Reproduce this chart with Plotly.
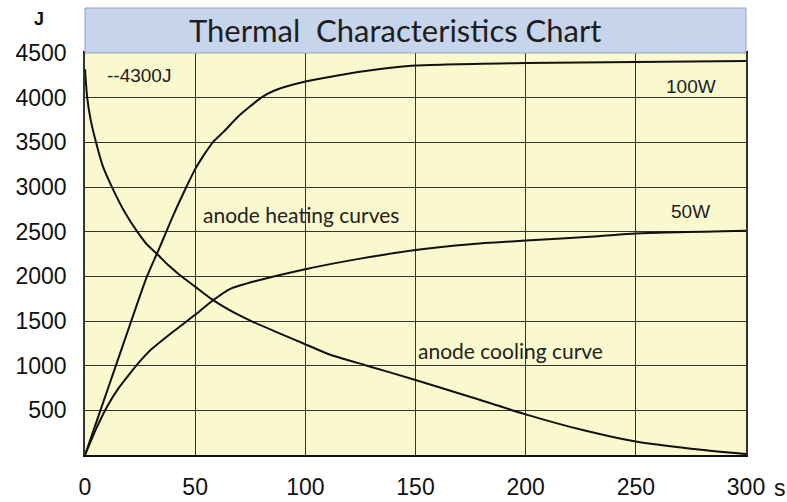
import plotly.graph_objects as go

# time (s) and energy (J)
heat100_t = [0, 7, 14, 21, 28, 34, 40, 46, 50, 54, 58, 63, 70, 80, 86, 100, 116, 134, 150, 200, 250, 300]
heat100_j = [0, 500, 1000, 1500, 1990, 2330, 2680, 3000, 3200, 3360, 3500, 3620, 3800, 4000, 4080, 4180, 4255, 4320, 4360, 4388, 4400, 4410]

heat50_t = [0, 5, 10, 15, 20, 25, 30, 40, 50, 58, 66, 78, 100, 123, 150, 175, 200, 233, 250, 300]
heat50_j = [0, 290, 540, 740, 900, 1050, 1180, 1380, 1570, 1730, 1860, 1950, 2080, 2190, 2295, 2360, 2400, 2450, 2480, 2510]

cool_t = [0, 1, 2.5, 5, 8, 13, 18, 23.7, 28, 33.5, 38, 43, 50, 57.5, 65, 75, 88, 100, 111, 128, 150, 175, 200, 225, 250, 275, 300]
cool_j = [4320, 4000, 3760, 3500, 3240, 2960, 2720, 2500, 2360, 2230, 2120, 2015, 1885, 1745, 1630, 1505, 1365, 1240, 1125, 1000, 840, 650, 455, 285, 150, 70, 10]

x_ticks = [0, 50, 100, 150, 200, 250, 300]
y_ticks = [500, 1000, 1500, 2000, 2500, 3000, 3500, 4000, 4500]

BG = "#FAF8CD"
BAND = "#C6D5EC"
ARIAL = "Arial, Liberation Sans"

fig = go.Figure()
for t, j in [(heat100_t, heat100_j), (heat50_t, heat50_j), (cool_t, cool_j)]:
    fig.add_trace(go.Scatter(x=t, y=j, mode="lines",
                             line=dict(color="#111111", width=2, shape="spline", smoothing=0.6),
                             showlegend=False, hoverinfo="skip"))

fig.update_layout(
    width=787, height=502,
    margin=dict(l=84.5, r=40.5, t=53, b=47),
    paper_bgcolor="white", plot_bgcolor=BG,
    font=dict(family=ARIAL, color="#111111"),
)
fig.update_xaxes(range=[0, 300], tickvals=x_ticks, ticktext=[str(v) for v in x_ticks],
                 automargin=False,
                 showgrid=True, gridcolor="#333333", gridwidth=1, zeroline=False,
                 showline=True, linecolor="#111111", linewidth=1.5, mirror=True,
                 ticks="outside", ticklen=0, ticklabelstandoff=11,
                 tickfont=dict(size=23, family=ARIAL, color="#111111"))
fig.update_yaxes(range=[0, 4500], tickvals=y_ticks, ticktext=[str(v) for v in y_ticks],
                 automargin=False,
                 showgrid=True, gridcolor="#333333", gridwidth=1, zeroline=False,
                 showline=True, linecolor="#333333", linewidth=1.5, mirror=True,
                 ticks="outside", ticklen=0, ticklabelstandoff=12,
                 tickfont=dict(size=23, family=ARIAL, color="#111111"))

# title band
fig.add_shape(type="rect", xref="paper", yref="paper", x0=0, x1=1, y0=1, y1=1 + 45 / 402,
              fillcolor=BAND, line=dict(color="#8FA2BE", width=1), layer="above")
fig.add_annotation(xref="paper", yref="paper", x=0.469, y=1.057, xanchor="center", yanchor="middle",
                   text="Thermal  Characteristics Chart",
                   showarrow=False, font=dict(size=31, family="Lato", color="#1E1E1E"))
fig.add_annotation(xref="paper", yref="paper", x=-0.069, y=1.085, xanchor="center", yanchor="middle",
                   text="<b>J</b>",
                   showarrow=False, font=dict(size=18, family=ARIAL, color="#111111"))
fig.add_annotation(xref="paper", yref="paper", x=1.0, y=-0.083, xanchor="left", yanchor="middle",
                   text="s", xshift=26,
                   showarrow=False, font=dict(size=23, family=ARIAL, color="#111111"))

labels = [
    (9, 4250, "--4300J", "left", 19, ARIAL),
    (275, 4120, "100W", "center", 19, ARIAL),
    (275, 2730, "50W", "center", 19, ARIAL),
    (52.8, 2690, "anode heating curves", "left", 21, "Lato"),
    (150.3, 1165, "anode cooling curve", "left", 21, "Lato"),
]
for x, y, txt, anc, sz, fam in labels:
    fig.add_annotation(x=x, y=y, text=txt, xanchor=anc, yanchor="middle", showarrow=False,
                       font=dict(size=sz, family=fam, color="#222222"))

fig.write_html("out.html", config={"displayModeBar": False},
               post_script="document.body.style.margin='0';document.body.style.overflow='hidden';")
